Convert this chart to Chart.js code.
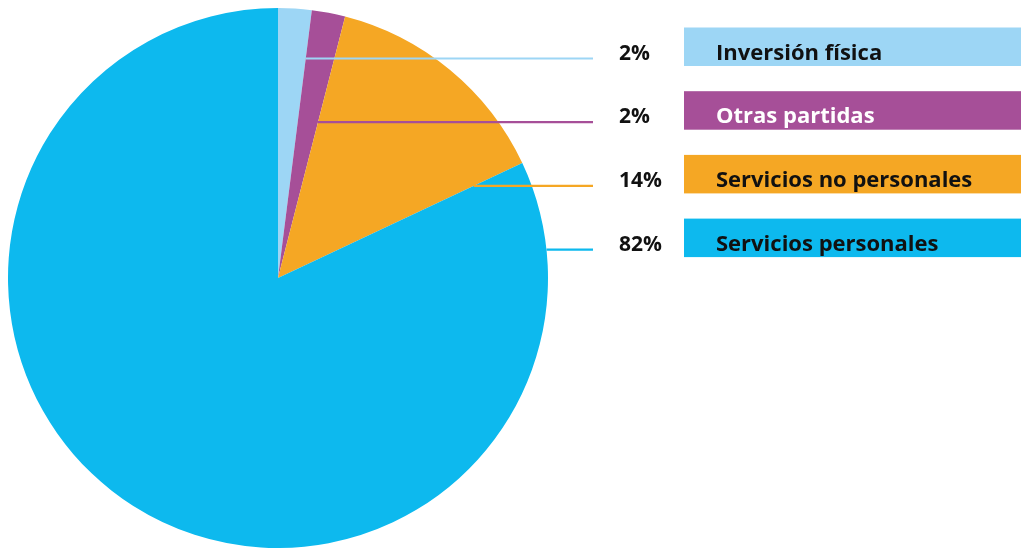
<!DOCTYPE html>
<html>
<head>
<meta charset="utf-8">
<script src="https://cdn.jsdelivr.net/npm/chart.js"></script>
<style>
  html, body { margin: 0; padding: 0; background: #fff; overflow: hidden; }
  #pie { display: block; }
</style>
</head>
<body>
<canvas id="pie" width="1021" height="548"></canvas>
<script>
// data
const categories = ["Inversión física", "Otras partidas", "Servicios no personales", "Servicios personales"];
const shares = [2, 2, 14, 82];
const percentLabels = ["2%", "2%", "14%", "82%"];
const sliceColors = ["#9dd6f5", "#a64f98", "#f5a724", "#0db9ee"];
const legendTextColors = ["#111111", "#ffffff", "#111111", "#111111"];

const FONT = "'Open Sans', sans-serif";

// leader lines + labels + colored legend boxes on the right
const sideLegend = {
  id: "sideLegend",
  afterDatasetsDraw(chart) {
    const ctx = chart.ctx;
    const arcs = chart.getDatasetMeta(0).data;
    const rowTop = 27.5, rowStep = 63.7, boxH = 38.5;
    ctx.save();
    arcs.forEach((arc, i) => {
      const top = rowTop + i * rowStep;
      const ly = top + 31;
      const cx = arc.x, cy = arc.y, R = arc.outerRadius;
      const a = arc.endAngle;
      const edgeX = cx + Math.sqrt(R * R - (ly - cy) * (ly - cy));
      let x0 = edgeX;
      // start the line where it meets the slice's far edge, else at the rim
      if (i < arcs.length - 1) {
        const s = Math.sin(a);
        const r = s !== 0 ? (ly - cy) / s : -1;
        if (r > 0 && r < R) x0 = cx + r * Math.cos(a);
      }
      ctx.strokeStyle = sliceColors[i];
      ctx.lineWidth = 2.2;
      ctx.beginPath();
      ctx.moveTo(x0, ly);
      ctx.lineTo(593, ly);
      ctx.stroke();
      // percent
      ctx.fillStyle = "#111";
      ctx.font = "bold 21px " + FONT;
      ctx.textBaseline = "alphabetic";
      ctx.textAlign = "left";
      ctx.fillText(percentLabels[i], 619, top + 32);
      // box
      ctx.fillStyle = sliceColors[i];
      ctx.fillRect(684, top, 1021 - 684, boxH);
      ctx.fillStyle = legendTextColors[i];
      ctx.font = "bold 22px " + FONT;
      ctx.fillText(categories[i], 716, top + 32);
    });
    ctx.restore();
  }
};

const context = document.getElementById("pie").getContext("2d");
const pie = new Chart(context, {
  type: "pie",
  data: {
    labels: categories,
    datasets: [{
      data: shares,
      backgroundColor: sliceColors,
      borderWidth: 0
    }]
  },
  options: {
    responsive: false,
    animation: false,
    layout: { padding: { left: 8, top: 8, right: 473, bottom: 0 } },
    plugins: {
      legend: { display: false },
      tooltip: { enabled: false }
    }
  },
  plugins: [sideLegend]
});
</script>
</body>
</html>
